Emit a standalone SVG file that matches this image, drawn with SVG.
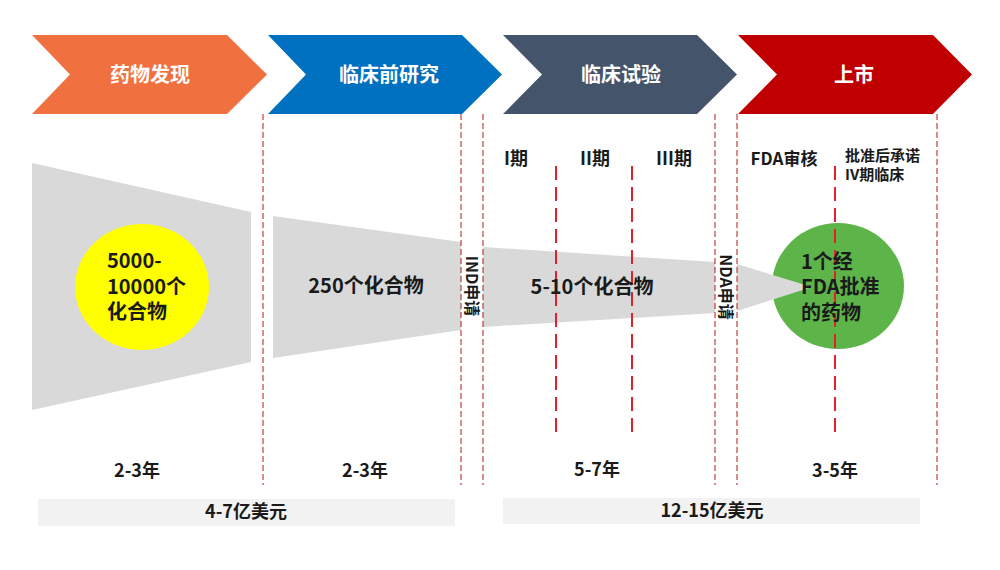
<svg xmlns="http://www.w3.org/2000/svg" width="1000" height="570" viewBox="0 0 1000 570">
<style>
text{font-family:"Noto Sans CJK SC","Noto Sans",sans-serif;font-weight:bold;fill:#1a1a1a}
.hd{fill:#fff;font-size:20px;text-anchor:middle}
.c{text-anchor:middle}
.thin{stroke:#B01818;stroke-width:1;stroke-dasharray:6 3;fill:none}
.thick{stroke:#E0202A;stroke-width:2;stroke-dasharray:14 7;fill:none}
.band{fill:#D9D9D9}
.bar{fill:#F2F2F2}
</style>
<rect width="1000" height="570" fill="#fff"/>
<g id="stage-discovery">
<polygon points="32,35 227,35 267,74.5 227,114 32,114 70,74.5" fill="#F0703F"/>
<text class="hd" x="150" y="82">药物发现</text>
</g>
<g id="stage-preclinical">
<polygon points="268,35 462,35 502,74.5 462,114 268,114 306,74.5" fill="#0070C0"/>
<text class="hd" x="389" y="82">临床前研究</text>
</g>
<g id="stage-clinical">
<polygon points="503,35 697,35 737,74.5 697,114 503,114 542,74.5" fill="#44546A"/>
<text class="hd" x="621" y="82">临床试验</text>
</g>
<g id="stage-market">
<polygon points="738,35 933,35 972,74.5 933,114 738,114 777,74.5" fill="#C00000"/>
<text class="hd" x="854" y="82">上市</text>
</g>
<g id="funnel">
<polygon class="band" points="32,163 251,212 251,362 32,410"/>
<polygon class="band" points="273,216 461,242 461,330 273,358"/>
<polygon class="band" points="483,247 715,262 715,313 483,327"/>
</g>
<g id="yellow-node">
<ellipse cx="142" cy="287" rx="67" ry="63" fill="#FFFF00"/>
<text x="107" y="268" font-size="20">5000-</text>
<text x="107" y="294" font-size="20">10000个</text>
<text x="107" y="319" font-size="20">化合物</text>
</g>
<g id="green-node">
<ellipse cx="838" cy="286" rx="66" ry="63" fill="#5DB54A"/>
<polygon class="band" points="737,264 812,287 737,311"/>
</g>
<g id="connectors">
<line class="thin" x1="263" y1="114" x2="263" y2="485"/>
<line class="thin" x1="461" y1="114" x2="461" y2="485"/>
<line class="thin" x1="483" y1="114" x2="483" y2="485"/>
<line class="thin" x1="715" y1="114" x2="715" y2="485"/>
<line class="thin" x1="737" y1="114" x2="737" y2="485"/>
<line class="thin" x1="937" y1="114" x2="937" y2="485"/>
<line class="thick" x1="556" y1="166" x2="556" y2="433"/>
<line class="thick" x1="632" y1="166" x2="632" y2="433"/>
<line class="thick" x1="835" y1="166" x2="835" y2="433"/>
</g>
<g id="labels">
<text class="c" x="366" y="293" font-size="20">250个化合物</text>
<text class="c" x="592" y="294" font-size="20">5-10个化合物</text>
<text x="801" y="269" font-size="20">1个经</text>
<text x="801" y="294" font-size="20">FDA批准</text>
<text x="801" y="320" font-size="20">的药物</text>
<text class="c" font-size="16" transform="translate(466,286) rotate(90)">IND申请</text>
<text class="c" font-size="16" transform="translate(720,287) rotate(90)">NDA申请</text>
<text class="c" x="516" y="165" font-size="18">I期</text>
<text class="c" x="595" y="165" font-size="18">II期</text>
<text class="c" x="674" y="165" font-size="18">III期</text>
<text class="c" x="784" y="165" font-size="17">FDA审核</text>
<text x="845" y="161" font-size="15">批准后承诺</text>
<text x="845" y="180" font-size="15">IV期临床</text>
<text class="c" x="137" y="477" font-size="18">2-3年</text>
<text class="c" x="365" y="477" font-size="18">2-3年</text>
<text class="c" x="597" y="476" font-size="18">5-7年</text>
<text class="c" x="835" y="477" font-size="18">3-5年</text>
</g>
<g id="cost-preclinical">
<rect class="bar" x="38" y="499" width="417" height="27"/>
<text class="c" x="246" y="518" font-size="18">4-7亿美元</text>
</g>
<g id="cost-clinical">
<rect class="bar" x="503" y="498" width="417" height="26"/>
<text class="c" x="712" y="517" font-size="18">12-15亿美元</text>
</g>
</svg>
